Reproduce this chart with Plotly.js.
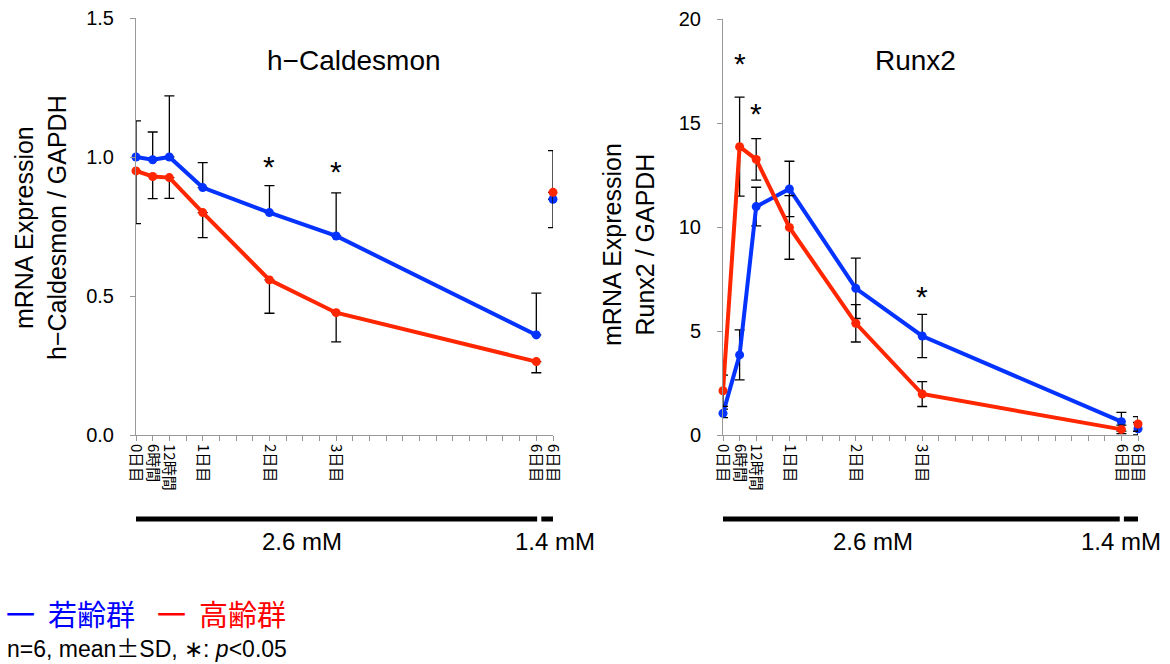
<!DOCTYPE html>
<html>
<head>
<meta charset="utf-8">
<script src="https://cdn.plot.ly/plotly-3.0.1.min.js"></script>
<style>html,body{margin:0;padding:0;background:#fff;}#chart{width:1170px;height:664px;}</style>
</head>
<body>
<div id="chart"></div>
<script>
// x positions in 6-hour units and their tick labels
const xPos = [0, 1, 2, 4, 8, 12, 24, 25];
const xLabels = ['0日目', '6時間', '12時間', '1日目', '2日目', '3日目', '6日目', '6日目'];

// h-Caldesmon (left)
const calYoungMean = [1.00, 0.99, 1.00, 0.89, 0.80, 0.716, 0.36, 0.848];
const calYoungSD   = [0.13, 0.10, 0.22, 0.09, 0.097, 0.155, 0.15, 0.175];
const calOldMean   = [0.95, 0.93, 0.926, 0.80, 0.558, 0.44, 0.264, 0.873];
const calOldSD     = [0.19, 0.08, 0.075, 0.09, 0.12, 0.105, 0.04, 0.127];

// Runx2 (right)
const runxYoungMean = [1.04, 3.85, 10.98, 11.83, 7.05, 4.76, 0.64, 0.30];
const runxYoungSD   = [0.20, 1.20, 0.93, 1.33, 1.45, 1.04, 0.45, 0.30];
const runxOldMean   = [2.13, 13.86, 13.25, 9.98, 5.37, 1.97, 0.27, 0.53];
const runxOldSD     = [0.75, 2.38, 1.00, 1.53, 0.90, 0.60, 0.20, 0.35];

// significance marks (x position, y level)
const sigLeftX = [8, 12];
const sigLeftY = [1.0, 0.98];
const sigRightX = [1, 2, 12];
const sigRightY = [18.3, 15.9, 7.1];

const BLUE = '#0433FF';
const RED = '#FF2600';
const zeros = n => new Array(n).fill(0);

function group(mean, sd, color, xa, ya, mode) {
  const mk = (idx0, idx1, withLine) => {
    const m = mean.slice(idx0, idx1), s = sd.slice(idx0, idx1);
    const err = {type: 'data', symmetric: false, color: '#000', thickness: 1.3, width: 5,
      array: mode === 'minus' ? zeros(m.length) : s,
      arrayminus: mode === 'plus' ? zeros(m.length) : s};
    return {
      x: xPos.slice(idx0, idx1), y: m, xaxis: xa, yaxis: ya,
      type: 'scatter', mode: withLine ? 'lines+markers' : 'markers',
      line: {color: color, width: 4}, marker: {color: color, size: 9},
      error_y: err, cliponaxis: false, showlegend: false, hoverinfo: 'skip'
    };
  };
  return [mk(0, 7, true), mk(7, 8, false)];
}

const data = [].concat(
  group(calYoungMean, calYoungSD, BLUE, 'x', 'y', 'plus'),
  group(calOldMean, calOldSD, RED, 'x', 'y', 'minus'),
  group(runxYoungMean, runxYoungSD, BLUE, 'x2', 'y2', 'both'),
  group(runxOldMean, runxOldSD, RED, 'x2', 'y2', 'both')
);

const tickFont = {family: 'Liberation Sans, Arial, sans-serif', size: 20, color: '#000'};
function xaxis(domain) {
  return {
    domain: domain, range: [0, 25], showgrid: false, zeroline: false,
    showline: true, linecolor: '#999', linewidth: 1,
    tickmode: 'array', tickvals: xPos, ticktext: xLabels, tickangle: 90,
    ticks: 'outside', ticklen: 5, tickcolor: '#999',
    minor: {tickmode: 'linear', tick0: 0, dtick: 1, ticks: 'outside', ticklen: 5, tickcolor: '#999'},
    tickfont: {family: 'Noto Sans CJK JP, sans-serif', size: 15, color: '#000'}
  };
}
function yaxis(domain, range, dtick, fmt, anchor) {
  return {
    domain: domain, range: range, dtick: dtick, tickformat: fmt, anchor: anchor,
    showgrid: false, zeroline: false, showline: true, linecolor: '#999', linewidth: 1,
    ticks: 'outside', ticklen: 5, tickcolor: '#999', tickfont: tickFont, ticklabelstandoff: 12
  };
}

const ann = [];
const txtFont = (size, color) => ({family: 'Liberation Sans, Arial, sans-serif', size: size, color: color || '#000'});
const P = (px, py) => ({xref: 'paper', yref: 'paper', x: px / 1170, y: 1 - py / 664, showarrow: false});
// chart titles
ann.push(Object.assign(P(354, 60), {text: 'h−Caldesmon', font: txtFont(28), xanchor: 'center', yanchor: 'middle'}));
ann.push(Object.assign(P(915, 60), {text: 'Runx2', font: txtFont(28), xanchor: 'center', yanchor: 'middle'}));
// y titles
ann.push(Object.assign(P(40, 228), {text: 'mRNA Expression<br>h−Caldesmon / GAPDH', textangle: -90, font: txtFont(25), xanchor: 'center', yanchor: 'middle'}));
ann.push(Object.assign(P(629, 245), {text: 'mRNA Expression<br>Runx2 / GAPDH', textangle: -90, font: txtFont(25), xanchor: 'center', yanchor: 'middle'}));
// concentration labels
ann.push(Object.assign(P(302, 541), {text: '2.6 mM', font: txtFont(24), xanchor: 'center', yanchor: 'middle'}));
ann.push(Object.assign(P(555, 541), {text: '1.4 mM', font: txtFont(24), xanchor: 'center', yanchor: 'middle'}));
ann.push(Object.assign(P(873, 541), {text: '2.6 mM', font: txtFont(24), xanchor: 'center', yanchor: 'middle'}));
ann.push(Object.assign(P(1121, 541), {text: '1.4 mM', font: txtFont(24), xanchor: 'center', yanchor: 'middle'}));
// legend text
const cjk = c => ({family: 'Noto Sans CJK JP, sans-serif', size: 29, color: c});
ann.push(Object.assign(P(4, 613), {text: '一&nbsp; 若齢群', font: cjk('#0000FF'), xanchor: 'left', yanchor: 'middle'}));
ann.push(Object.assign(P(155, 613), {text: '一&nbsp; 高齢群', font: cjk('#FF0000'), xanchor: 'left', yanchor: 'middle'}));
ann.push(Object.assign(P(5, 647), {text: 'n=6, mean<span style="font-family:Noto Sans CJK JP">±</span>SD, ∗: <i>p</i>&lt;0.05', font: txtFont(23), xanchor: 'left', yanchor: 'middle'}));
// asterisks
sigLeftX.forEach((x, i) => ann.push({xref: 'x', yref: 'y', x: x, y: sigLeftY[i], text: '*', showarrow: false, font: txtFont(30), yshift: -9}));
sigRightX.forEach((x, i) => ann.push({xref: 'x2', yref: 'y2', x: x, y: sigRightY[i], text: '*', showarrow: false, font: txtFont(30), yshift: -9}));

const barY = 1 - 519 / 664;
const shapes = [
  {type: 'line', xref: 'x', yref: 'paper', x0: -0.2, x1: 24.05, y0: barY, y1: barY, line: {color: '#000', width: 5}},
  {type: 'line', xref: 'x', yref: 'paper', x0: 24.3, x1: 25.1, y0: barY, y1: barY, line: {color: '#000', width: 5}},
  {type: 'line', xref: 'x2', yref: 'paper', x0: -0.3, x1: 23.9, y0: barY, y1: barY, line: {color: '#000', width: 5}},
  {type: 'line', xref: 'x2', yref: 'paper', x0: 24.15, x1: 25.0, y0: barY, y1: barY, line: {color: '#000', width: 5}}
];

const layout = {
  width: 1170, height: 664, margin: {l: 0, r: 0, t: 0, b: 0},
  paper_bgcolor: '#fff', plot_bgcolor: '#fff', showlegend: false,
  xaxis: Object.assign(xaxis([136 / 1170, 553 / 1170]), {anchor: 'y'}),
  yaxis: yaxis([1 - 435 / 664, 1 - 18 / 664], [0, 1.5], 0.5, '.1f', 'x'),
  xaxis2: Object.assign(xaxis([723 / 1170, 1138 / 1170]), {anchor: 'y2'}),
  yaxis2: yaxis([1 - 435 / 664, 1 - 19 / 664], [0, 20], 5, 'd', 'x2'),
  annotations: ann, shapes: shapes
};

Plotly.newPlot('chart', data, layout, {displayModeBar: false, staticPlot: true});
</script>
</body>
</html>
